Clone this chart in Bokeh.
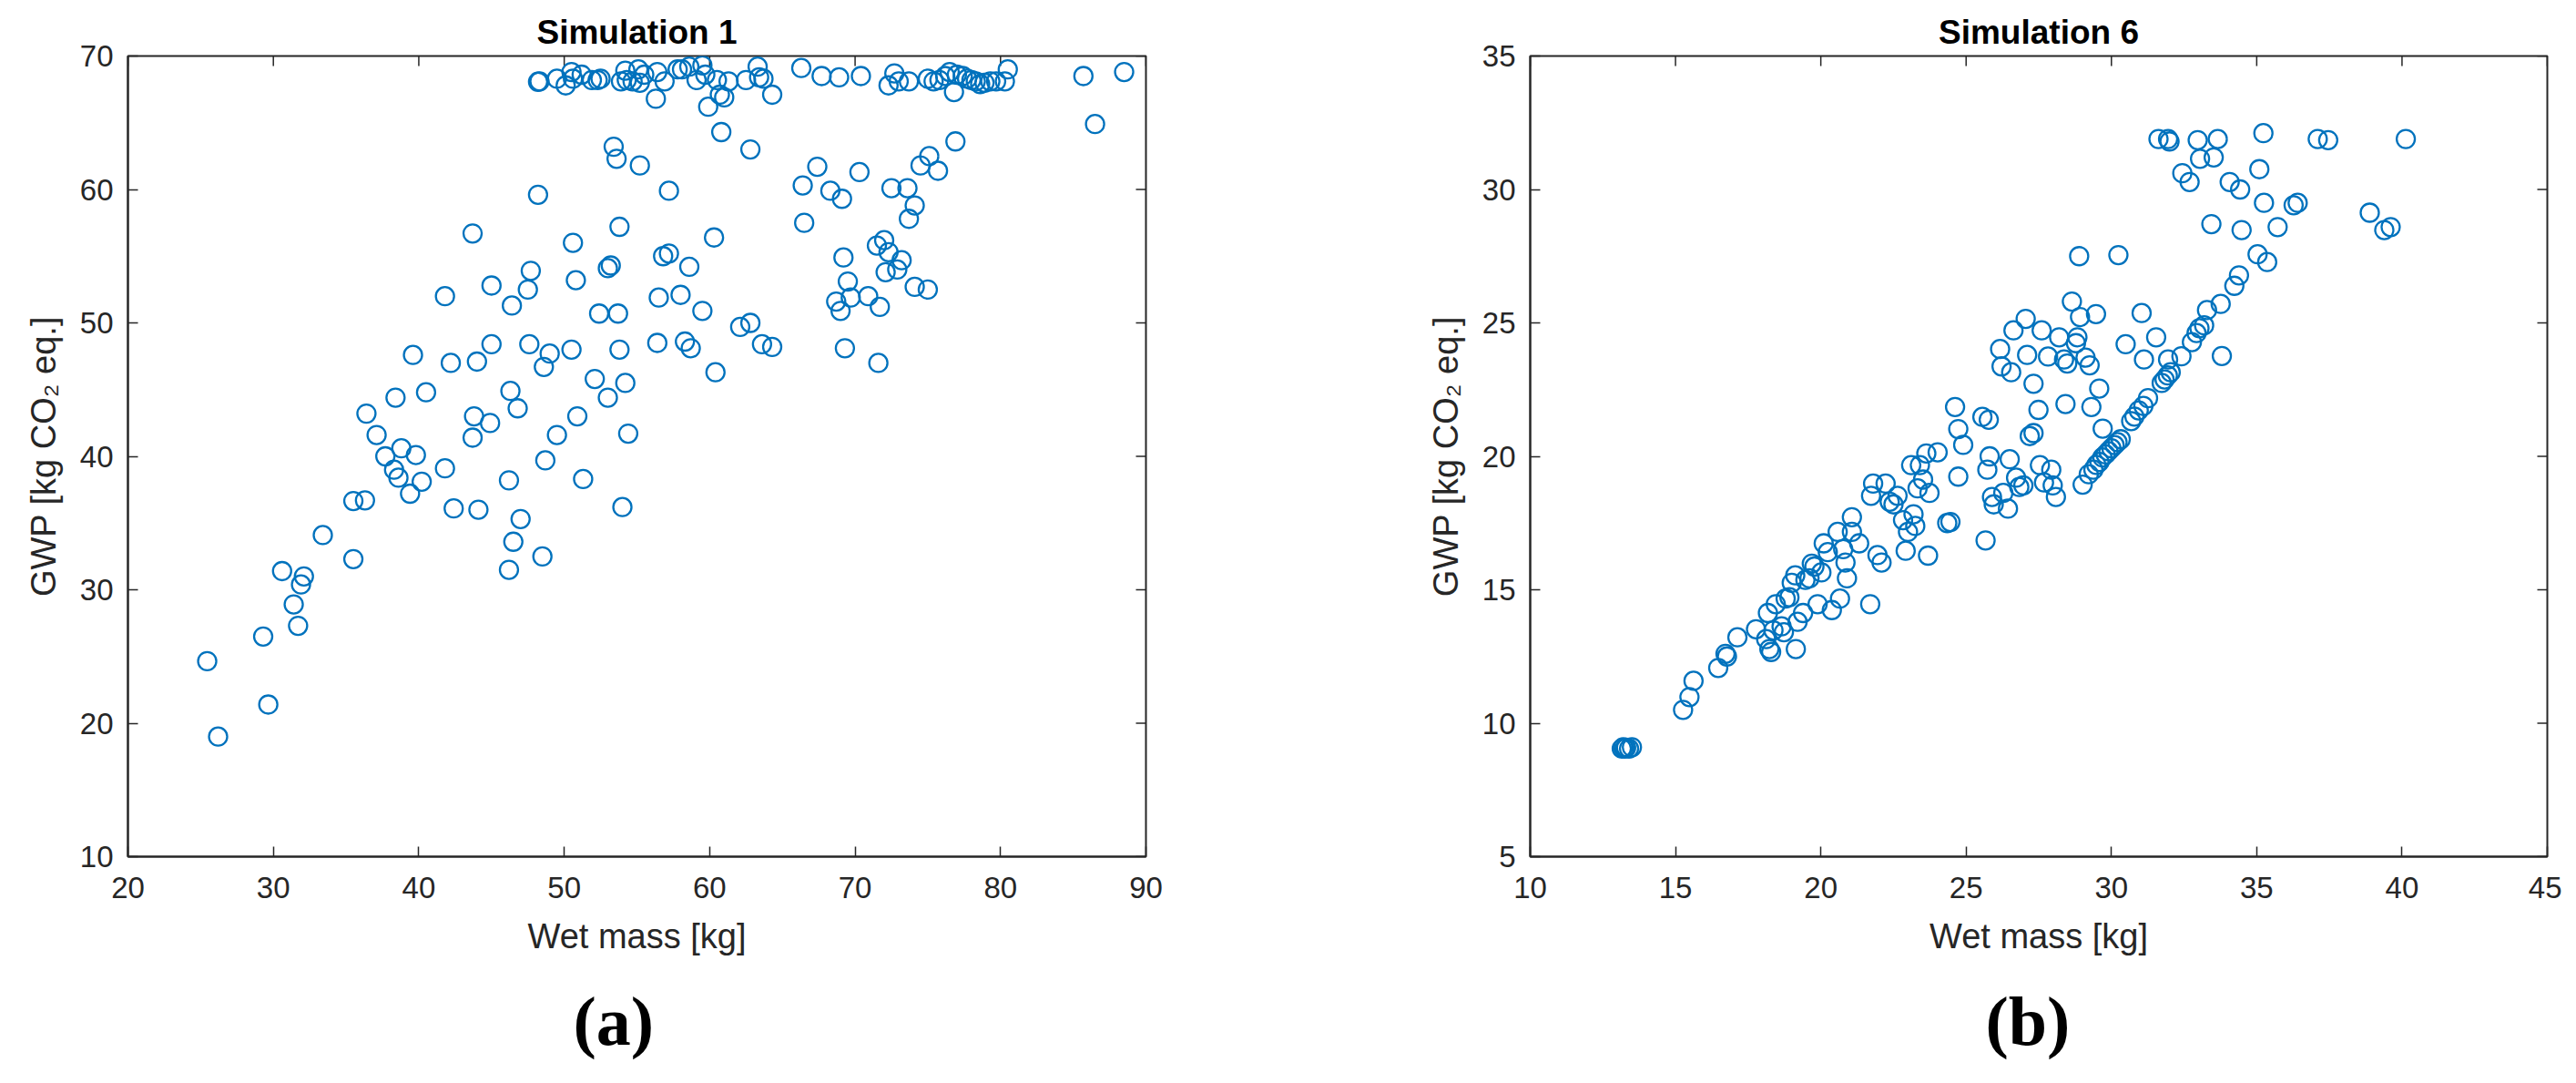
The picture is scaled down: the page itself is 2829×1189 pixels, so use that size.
import math
from bokeh.plotting import figure
from bokeh.layouts import row
from bokeh.models import Range1d, FixedTicker, Title
from bokeh.embed import file_html
from bokeh.resources import INLINE

# ---------------- Simulation 1 data ----------------
sim1_mass = [
    25.45, 26.2, 29.3, 29.65, 30.6, 31.4, 31.7, 31.9, 32.1, 33.4, 35.5, 35.5, 36.3, 36.4, 37.1,
    37.7, 38.3, 38.6, 38.8, 38.4, 39.4, 39.6, 39.8, 40.2, 40.5, 41.8, 41.8, 42.2, 42.4, 43.7,
    43.8, 43.7, 44.0, 44.1, 44.9, 45.0, 45.0, 46.2, 46.2, 46.3, 46.4, 46.5, 46.8, 47.0, 47.5,
    47.6, 47.7, 48.2, 48.5, 48.6, 48.7, 49.0, 49.5, 50.5, 50.6, 50.8, 50.9, 51.3, 52.1, 52.4,
    53.0, 53.0, 53.2, 53.4, 53.6, 53.7, 53.8, 53.8, 54.0, 54.2, 54.4, 55.2, 56.4, 56.5, 56.8,
    57.2, 57.2, 58.0, 58.3, 58.6, 58.7, 59.5, 60.3, 60.4, 60.8, 62.1, 62.8, 62.8, 63.6, 64.3,
    66.4, 66.5, 67.4, 68.3, 68.7, 69.0, 69.1, 69.2, 69.3, 69.5, 69.7, 70.3, 70.9, 71.5, 71.6,
    71.7, 72.0, 72.1, 72.3, 72.5, 72.9, 73.2, 73.6, 73.7, 74.1, 74.1, 74.5, 75.0, 75.1, 75.7,
    76.9, 86.5,
    48.2, 48.3, 49.5, 50.1, 50.5, 50.6, 51.2, 51.9, 52.3, 52.5, 53.9, 54.2, 54.3, 54.7, 55.1,
    55.2, 55.5, 56.4, 56.9, 56.3, 57.8, 58.1, 58.6, 59.1, 59.5, 59.7, 59.9, 60.5, 60.7, 61.0,
    61.3, 62.5, 63.3, 63.4, 63.7, 64.3, 66.3, 67.7, 68.9, 70.4, 72.3, 72.7, 73.0, 73.7, 75.0,
    75.4, 75.8, 76.2, 76.5, 76.8, 77.0, 77.4, 77.7, 78.0, 78.3, 78.6, 78.9, 79.3, 79.7, 80.3,
    80.5, 85.7, 88.5,
]
sim1_gwp = [
    24.65, 19.0, 26.5, 21.4, 31.4, 28.9, 27.3, 30.4, 31.0, 34.1, 32.3, 36.65, 36.7, 43.2, 41.6,
    40.0, 39.0, 38.4, 40.6, 44.4, 37.2, 47.6, 40.1, 38.1, 44.8, 52.0, 39.1, 47.0, 36.1, 41.4,
    43.0, 56.7, 47.1, 36.0, 42.5, 48.4, 52.8, 31.5, 38.2, 44.9, 51.3, 33.6, 43.6, 35.3, 52.5,
    48.4, 53.9, 59.6, 32.5, 46.7, 39.7, 47.7, 41.6, 48.0, 56.0, 53.2, 43.0, 38.3, 45.8, 50.7,
    44.4, 54.1, 54.3, 63.2, 62.3, 50.7, 48.0, 57.2, 36.2, 45.5, 41.7, 61.8, 48.5, 51.9, 55.0,
    55.2, 59.9, 52.1, 48.6, 54.2, 48.1, 50.9, 56.4, 46.3, 64.3, 49.7, 50.0, 63.0, 48.4, 48.2,
    60.3, 57.5, 61.7, 59.9, 51.6, 50.9, 59.3, 54.9, 48.1, 53.1, 51.9, 61.3, 52.0, 55.8, 47.0,
    51.2, 56.2, 53.8, 55.3, 60.1, 54.0, 54.7, 60.1, 57.8, 58.8, 52.7, 61.8, 52.5, 62.5, 61.4,
    63.6, 64.9,
    68.07, 68.1, 68.3, 67.8, 68.8, 68.3, 68.6, 68.2, 68.2, 68.3, 68.1, 68.9, 68.2, 68.1, 69.0,
    68.0, 68.6, 68.8, 68.1, 66.8, 69.0, 69.0, 69.2, 68.2, 69.3, 68.6, 66.2, 68.2, 67.1, 66.9,
    68.1, 68.2, 69.2, 68.4, 68.3, 67.1, 69.1, 68.5, 68.4, 68.5, 67.8, 68.7, 68.1, 68.1, 68.3,
    68.1, 68.2, 68.5, 68.8, 67.3, 68.6, 68.5, 68.3, 68.2, 68.1, 67.9, 68.0, 68.1, 68.1, 68.1,
    69.0, 68.5, 68.8,
]

# ---------------- Simulation 6 data ----------------
sim6_mass = [
    13.15, 13.2, 13.25, 13.3, 13.4, 13.5,
    15.26, 15.48, 15.62, 16.47, 16.72, 16.77, 17.13, 17.77, 18.12, 18.18, 18.23, 18.29, 18.37,
    18.45, 18.65, 18.73, 18.79, 18.92, 19.0, 19.12, 19.14, 19.2, 19.39, 19.47, 19.61, 19.69,
    19.78, 19.89, 20.02, 20.1, 20.24, 20.38, 20.58, 20.66, 20.77, 20.85, 20.9, 21.07, 21.07,
    21.32, 21.7, 21.73, 21.8, 21.95, 22.09, 22.23, 22.37, 22.5, 22.64, 22.83, 22.92, 23.0,
    23.11, 23.19, 23.25, 23.33, 23.41, 23.52, 23.63, 23.69, 23.74, 24.02, 24.35, 24.46, 24.62,
    24.73, 24.73, 24.9, 25.56, 25.67, 25.73, 25.78, 25.81, 25.89, 25.95, 26.17, 26.22, 26.28,
    26.44, 26.5, 26.55, 26.63, 26.72, 26.83, 26.97, 27.05, 27.1, 27.19, 27.32, 27.32, 27.49,
    27.54, 27.6, 27.68, 27.82, 27.93, 27.98, 28.09, 28.2, 28.37, 28.42, 28.48, 28.64, 28.78,
    28.83, 28.89, 28.92, 29.11, 29.25, 29.31, 29.47, 29.58, 29.7, 30.24, 30.49, 31.04, 31.12,
    31.54, 31.62, 31.95, 32.0, 31.95, 32.44, 32.69, 32.97, 33.05, 33.44, 33.52, 33.66, 33.8,
    34.07, 34.43, 34.48, 35.03, 35.09, 35.23, 35.25, 35.36, 35.72, 36.27, 36.41, 37.1, 37.46,
    38.89, 39.39, 39.61, 40.13,
    29.01, 29.22, 29.38, 29.48, 29.59, 29.69, 29.8, 29.9, 30.0, 30.11, 30.21, 30.32, 30.68,
    30.79, 30.94, 31.1, 31.26, 31.73, 31.83, 31.94, 32.04, 32.41, 32.77, 32.93, 33.03, 33.19,
    33.29, 33.76, 34.23, 34.39,
]
sim6_gwp = [
    9.05, 9.1, 9.05, 9.08, 9.05, 9.1,
    10.5, 10.98, 11.59, 12.07, 12.6, 12.5, 13.22, 13.52, 13.15, 14.13, 12.78, 12.67, 13.48,
    14.46, 13.63, 13.41, 14.67, 14.72, 15.26, 15.54, 12.78, 13.8, 14.13, 15.37, 15.43, 15.98,
    15.87, 14.46, 15.65, 16.74, 16.41, 14.24, 17.17, 14.67, 16.52, 16.02, 15.43, 17.72, 17.17,
    16.74, 14.46, 18.52, 18.98, 16.3, 16.02, 18.98, 18.3, 18.2, 18.52, 17.61, 16.46, 17.17,
    19.67, 17.83, 17.39, 18.8, 19.67, 19.13, 20.11, 16.28, 18.63, 20.15, 17.5, 17.54, 21.85,
    21.02, 19.24, 20.43, 21.48, 16.85, 19.5, 21.37, 20.0, 18.48, 18.2, 24.02, 23.37, 18.63,
    18.04, 19.89, 23.15, 24.72, 19.2, 18.85, 18.91, 25.15, 23.8, 20.76, 20.87, 22.72, 21.74,
    19.67, 24.72, 19.02, 23.74, 19.5, 18.91, 18.48, 24.46, 23.63, 21.96, 23.48, 25.8, 24.24,
    24.46, 27.5, 25.22, 23.7, 23.41, 21.85, 25.33, 22.54, 21.04, 27.54, 24.2, 25.37, 23.63,
    24.46, 31.89, 31.89, 31.8, 23.63, 30.61, 30.28, 31.85, 31.15, 28.7, 31.2, 31.89, 23.76,
    30.28, 30.0, 28.48, 27.57, 30.76, 32.11, 29.5, 27.28, 28.59, 29.41, 29.5, 31.89, 31.85,
    29.13, 28.48, 28.59, 31.89,
    18.94, 19.33, 19.5, 19.68, 19.79, 19.96, 20.07, 20.19, 20.3, 20.42, 20.53, 20.64, 21.32,
    21.49, 21.72, 21.89, 22.18, 22.75, 22.88, 23.03, 23.15, 23.75, 24.28, 24.62, 24.8, 24.91,
    25.48, 25.71, 26.39, 26.78,
]

sim1_xticks = [20, 30, 40, 50, 60, 70, 80, 90]
sim1_yticks = [10, 20, 30, 40, 50, 60, 70]
sim6_xticks = [10, 15, 20, 25, 30, 35, 40, 45]
sim6_yticks = [5, 10, 15, 20, 25, 30, 35]

AX = "#262626"
BLUE = "#0072BD"
FONT = "Liberation Sans"
SERIF = "Liberation Serif"
TICK_FS = "33px"
LABEL_FS = "38px"
FIG_H = 1189


def style_axis(ax, ticks):
    ax.ticker = FixedTicker(ticks=ticks)
    ax.axis_line_color = AX
    ax.axis_line_width = 2
    ax.major_tick_line_color = AX
    ax.major_tick_line_width = 1.5
    ax.major_tick_in = 11
    ax.major_tick_out = 0
    ax.minor_tick_in = 0
    ax.minor_tick_out = 0
    ax.minor_tick_line_color = None
    ax.major_label_text_font = FONT
    ax.major_label_text_color = AX
    ax.major_label_text_font_size = TICK_FS
    ax.axis_label_text_font = FONT
    ax.axis_label_text_font_size = LABEL_FS
    ax.axis_label_text_font_style = "normal"
    ax.axis_label_text_color = AX


def panel(title, xs, ys, xr, yr, xt, yt, tag, width, left, right, tag_offset):
    p = figure(width=width, height=FIG_H, output_backend="svg", toolbar_location=None,
               x_range=Range1d(*xr), y_range=Range1d(*yr),
               min_border_left=left, min_border_right=right,
               min_border_top=61, min_border_bottom=FIG_H - 940)
    p.title.text = title
    p.title.align = "center"
    p.title.text_font = FONT
    p.title.text_font_size = "37px"
    p.title.text_font_style = "bold"
    p.title.text_color = "#000000"
    p.title.standoff = 12
    p.grid.visible = False
    p.outline_line_color = AX
    p.outline_line_width = 2
    p.background_fill_color = "white"
    p.border_fill_color = "white"

    style_axis(p.xaxis[0], xt)
    style_axis(p.yaxis[0], yt)
    p.xaxis[0].axis_label = "Wet mass [kg]"
    p.yaxis[0].axis_label = "GWP [kg CO\u2082 eq.]"
    p.xaxis[0].major_label_standoff = 22
    p.yaxis[0].major_label_standoff = 16
    p.xaxis[0].axis_label_standoff = 18
    p.yaxis[0].axis_label_standoff = 16

    # inward ticks on the top and right edges of the box
    p.scatter(xt, [yr[1]] * len(xt), marker="dash", angle=math.pi / 2, size=22,
              line_color=AX, line_width=1.5)
    p.scatter([xr[1]] * len(yt), yt, marker="dash", angle=0, size=22,
              line_color=AX, line_width=1.5)

    p.scatter(xs, ys, marker="circle", size=20, fill_color=None,
              line_color=BLUE, line_width=2.3)

    p.add_layout(Title(text=tag, align="left", text_font=SERIF,
                       text_font_size="76px", text_font_style="bold",
                       text_color="#000000", offset=tag_offset, standoff=50), "below")
    return p


p1 = panel("Simulation 1", sim1_mass, sim1_gwp, (20, 90), (10, 70),
           sim1_xticks, sim1_yticks, "(a)", 1414, 140, 156, 489)
p2 = panel("Simulation 6", sim6_mass, sim6_gwp, (10, 45), (5, 35),
           sim6_xticks, sim6_yticks, "(b)", 1399, 266, 16, 500)

layout = row(p1, p2)
open("out.html", "w").write(file_html(layout, INLINE))
